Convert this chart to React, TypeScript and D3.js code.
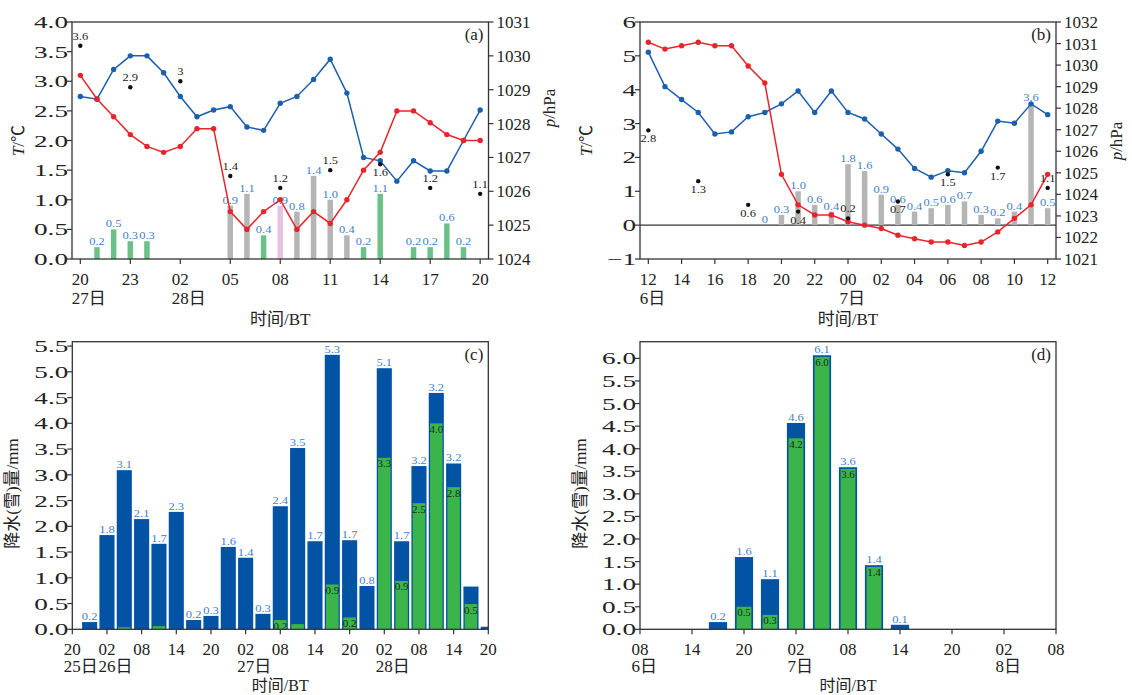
import React from 'react';
import * as d3 from 'd3';

const FONT = "'Liberation Serif','Times New Roman','Noto Sans CJK SC',serif";

// ---------- Panel (a) ----------
const aTickIdx = [0, 3, 6, 9, 12, 15, 18, 21, 24];
const aTickLabels = ['20', '23', '02', '05', '08', '11', '14', '17', '20'];
const aDayIdx = [0, 6];
const aDayLabels = ['27日', '28日'];
const aTemp = [3.1, 2.7, 2.4, 2.1, 1.9, 1.8, 1.9, 2.2, 2.2, 0.8, 0.5, 0.8, 1.0, 0.5, 0.8, 0.6, 1.0, 1.5, 1.8, 2.5, 2.5, 2.3, 2.1, 2.0, 2.0];
const aPres = [1028.8, 1028.72, 1029.6, 1030.0, 1030.0, 1029.5, 1028.8, 1028.2, 1028.4, 1028.5, 1027.9, 1027.8, 1028.6, 1028.8, 1029.3, 1029.9, 1028.9, 1027.0, 1026.9, 1026.3, 1026.9, 1026.6, 1026.6, 1027.5, 1028.4];
const aPrecip = [null, 0.2, 0.5, 0.3, 0.3, null, null, null, null, 0.9, 1.1, 0.4, 0.9, 0.8, 1.4, 1.0, 0.4, 0.2, 1.1, null, 0.2, 0.2, 0.6, 0.2, null];
const aPrecipType = ['', 'r', 'r', 'r', 'r', '', '', '', '', 's', 's', 'r', 'm', 's', 's', 's', 's', 'r', 'r', '', 'r', 'r', 'r', 'r', ''];
const aWindIdx = [0, 3, 6, 9, 12, 15, 18, 21, 24];
const aWind = [3.6, 2.9, 3, 1.4, 1.2, 1.5, 1.6, 1.2, 1.1];
const aWindBelow = [18];

// ---------- Panel (b) ----------
const bTickIdx = [0, 2, 4, 6, 8, 10, 12, 14, 16, 18, 20, 22, 24];
const bTickLabels = ['12', '14', '16', '18', '20', '22', '00', '02', '04', '06', '08', '10', '12'];
const bDayIdx = [0, 12];
const bDayLabels = ['6日', '7日'];
const bTemp = [5.4, 5.2, 5.3, 5.4, 5.3, 5.3, 4.7, 4.2, 1.5, 0.6, 0.3, 0.3, 0.1, 0.0, -0.1, -0.3, -0.4, -0.5, -0.5, -0.6, -0.5, -0.2, 0.2, 0.6, 1.5];
const bPres = [1030.6, 1029.0, 1028.4, 1027.8, 1026.8, 1026.9, 1027.6, 1027.8, 1028.2, 1028.8, 1027.8, 1028.8, 1027.8, 1027.5, 1026.8, 1026.1, 1025.2, 1024.8, 1025.1, 1025.0, 1026.0, 1027.4, 1027.3, 1028.2, 1027.7];
const bPrecip = [null, null, null, null, null, null, null, 0, 0.3, 1.0, 0.6, 0.4, 1.8, 1.6, 0.9, 0.6, 0.4, 0.5, 0.6, 0.7, 0.3, 0.2, 0.4, 3.6, 0.5];
const bPrecipType = bPrecip.map((v) => (v === null ? '' : 's'));
const bWindIdx = [0, 3, 6, 9, 12, 15, 18, 21, 24];
const bWind = [2.8, 1.3, 0.6, 0.4, 0.2, 0.7, 1.5, 1.7, 1.1];
const bWindBelow = [0, 3, 6, 9, 15, 18, 21];

// ---------- Panel (c) ----------
const cTickHours = [0, 6, 12, 18, 24, 30, 36, 42, 48, 54, 60, 66, 72];
const cTickLabels = ['20', '02', '08', '14', '20', '02', '08', '14', '20', '02', '08', '14', '20'];
const cDayHours = [0, 6, 30, 54];
const cDayLabels = ['25日', '26日', '27日', '28日'];
const cBarHours = [3, 6, 9, 12, 15, 18, 21, 24, 27, 30, 33, 36, 39, 42, 45, 48, 51, 54, 57, 60, 63, 66, 69, 72];
const cTotal = [0.14, 1.83, 3.09, 2.14, 1.66, 2.28, 0.18, 0.26, 1.6, 1.39, 0.3, 2.39, 3.52, 1.71, 5.33, 1.73, 0.84, 5.07, 1.71, 3.17, 4.59, 3.22, 0.83, 0.05];
const cTotalLabel = ['0.2', '1.8', '3.1', '2.1', '1.7', '2.3', '0.2', '0.3', '1.6', '1.4', '0.3', '2.4', '3.5', '1.7', '5.3', '1.7', '0.8', '5.1', '1.7', '3.2', '3.2', '3.2', '', ''];
const cSnow = [0, 0, 0.04, 0, 0.06, 0, 0, 0, 0, 0, 0, 0.18, 0.1, 0, 0.87, 0.23, 0, 3.33, 0.94, 2.45, 4.0, 2.76, 0.49, 0];
const cSnowLabel = ['', '', '', '', '', '', '', '', '', '', '', '0.2', '', '', '0.9', '0.2', '', '3.3', '0.9', '2.5', '4.0', '2.8', '0.5', ''];

// ---------- Panel (d) ----------
const dTickHours = [0, 6, 12, 18, 24, 30, 36, 42, 48];
const dTickLabels = ['08', '14', '20', '02', '08', '14', '20', '02', '08'];
const dDayHours = [0, 18, 42];
const dDayLabels = ['6日', '7日', '8日'];
const dBarHours = [9, 12, 15, 18, 21, 24, 27, 30];
const dTotal = [0.16, 1.6, 1.11, 4.57, 6.07, 3.59, 1.42, 0.1];
const dTotalLabel = ['0.2', '1.6', '1.1', '4.6', '6.1', '3.6', '1.4', '0.1'];
const dSnow = [0, 0.5, 0.32, 4.23, 6.07, 3.59, 1.42, 0];
const dSnowLabel = ['', '0.5', '0.3', '4.2', '6.0', '3.6', '1.4', ''];

const RED = '#e8242b';
const BLUE = '#1c5fae';
const LBLUE = '#3f7fcc';
const AXIS = '#333';
const TYPE_COLOR: Record<string, string> = { r: '#6cc08a', s: '#b5b5b5', m: '#e6c3e2' };

function Tx({ x, y, size = 17, sx = 1, anchor = 'middle', fill = '#222', rot = 0, children }: any) {
  let tr = `translate(${x},${y})`;
  if (rot) tr += ` rotate(${rot})`;
  if (sx !== 1) tr += ` scale(${sx},1)`;
  return (
    <text transform={tr} fontSize={size} textAnchor={anchor} fill={fill} fontFamily={FONT}>
      {children}
    </text>
  );
}

function XAxis({ x, y1, ticks, labels, dayTicks, dayLabels, titleX, titleY, dayDy = 45, titleSize = 17 }: any) {
  return (
    <g>
      {ticks.map((t: number, i: number) => (
        <g key={i}>
          <line x1={x(t)} x2={x(t)} y1={y1} y2={y1 + 5} stroke={AXIS} strokeWidth={1.2} />
          <Tx x={x(t)} y={y1 + 26}>{labels[i]}</Tx>
        </g>
      ))}
      {dayTicks.map((t: number, i: number) => (
        <Tx key={i} x={x(t) - 8.5} y={y1 + dayDy} anchor="start">{dayLabels[i]}</Tx>
      ))}
      <Tx x={titleX} y={titleY} size={titleSize}>时间/BT</Tx>
    </g>
  );
}

function LinePanel(p: any) {
  const x = d3.scaleLinear().domain([-0.5, 24.5]).range([p.x0, p.x1]);
  const yT = d3.scaleLinear().domain(p.tDomain).range([p.y1, p.y0]);
  const yP = d3.scaleLinear().domain(p.pDomain).range([p.y1, p.y0]);
  const lineT = d3.line<number>().x((_, i) => x(i)).y((d) => yT(d));
  const lineP = d3.line<number>().x((_, i) => x(i)).y((d) => yP(d));
  const tTicks = d3.range(p.tDomain[0], p.tDomain[1] + 1e-9, p.tStep);
  const pTicks = d3.range(p.pDomain[0], p.pDomain[1] + 1e-9, 1);
  const bw = 5.5;
  return (
    <g>
      {p.zeroLine && <line x1={p.x0} x2={p.x1} y1={yT(0)} y2={yT(0)} stroke={AXIS} strokeWidth={1.1} />}
      {p.precip.map((v: number | null, i: number) =>
        v === null ? null : (
          <rect key={i} x={x(i) - bw / 2} y={yT(v)} width={bw} height={yT(0) - yT(v)} fill={TYPE_COLOR[p.precipType[i]]} />
        )
      )}
      {p.precip.map((v: number | null, i: number) =>
        v === null ? null : (
          <Tx key={i} x={x(i)} y={yT(v) - 2} size={10} sx={1.25} fill={LBLUE}>{d3.format('.1f')(v) === '0.0' ? '0' : d3.format('.1f')(v)}</Tx>
        )
      )}
      <path d={lineP(p.pres) || ''} fill="none" stroke={BLUE} strokeWidth={1.5} />
      {p.pres.map((v: number, i: number) => (
        <circle key={i} cx={x(i)} cy={yP(v)} r={2.7} fill={BLUE} />
      ))}
      <path d={lineT(p.temp) || ''} fill="none" stroke={RED} strokeWidth={1.5} />
      {p.temp.map((v: number, i: number) => (
        <circle key={i} cx={x(i)} cy={yT(v)} r={2.7} fill={RED} />
      ))}
      {p.wind.map((v: number, k: number) => {
        const idx = p.windIdx[k];
        const below = p.windBelow.includes(idx);
        return (
          <g key={k}>
            <circle cx={x(idx)} cy={yT(v)} r={2.2} fill="#111" />
            <Tx x={x(idx)} y={below ? yT(v) + 12 : yT(v) - 6} size={10} sx={1.25} fill="#222">{String(v)}</Tx>
          </g>
        );
      })}
      <rect x={p.x0} y={p.y0} width={p.x1 - p.x0} height={p.y1 - p.y0} fill="none" stroke={AXIS} strokeWidth={1.3} />
      {tTicks.map((t: number, i: number) => (
        <g key={i}>
          <line x1={p.x0 - 5} x2={p.x0} y1={yT(t)} y2={yT(t)} stroke={AXIS} strokeWidth={1.2} />
          <Tx x={p.x0 - 4} y={yT(t) + 6} anchor="end" sx={1.6}>{p.tFmt(t)}</Tx>
        </g>
      ))}
      {pTicks.map((t: number, i: number) => (
        <g key={i}>
          <line x1={p.x1} x2={p.x1 + 5} y1={yP(t)} y2={yP(t)} stroke={AXIS} strokeWidth={1.2} />
          <Tx x={p.x1 + 8} y={yP(t) + 6} anchor="start">{String(t)}</Tx>
        </g>
      ))}
      <XAxis x={x} y1={p.y1} ticks={p.tickIdx} labels={p.tickLabels} dayTicks={p.dayIdx} dayLabels={p.dayLabels}
        titleX={(p.x0 + p.x1) / 2} titleY={p.y1 + 66} />
      <Tx x={p.x0 - 48} y={(p.y0 + p.y1) / 2} rot={-90}>
        <tspan fontStyle="italic">T</tspan>/℃
      </Tx>
      <Tx x={p.x1 + 66} y={p.pTitleY} rot={-90}>
        <tspan fontStyle="italic">p</tspan>/hPa
      </Tx>
      <Tx x={p.x1 - 5} y={p.y0 + 18} anchor="end">{p.label}</Tx>
    </g>
  );
}

function BarPanel(p: any) {
  const x = d3.scaleLinear().domain([0, p.hours]).range([p.x0, p.x1]);
  const y = d3.scaleLinear().domain([0, p.yMax]).range([p.y1, p.y0]);
  const yTicks = d3.range(0, p.yTickMax + 1e-9, 0.5);
  const bw = (x(3) - x(0)) * p.ratio;
  const ins = p.inset;
  return (
    <g>
      <defs>
        <clipPath id={`clip-${p.id}`}>
          <rect x={p.x0} y={p.y0} width={p.x1 - p.x0} height={p.y1 - p.y0} />
        </clipPath>
      </defs>
      <g clipPath={`url(#clip-${p.id})`}>
        {p.total.map((v: number, i: number) => (
          <rect key={i} x={x(p.barHours[i]) - bw / 2} y={y(v)} width={bw} height={y(0) - y(v)} fill="#0253a3" />
        ))}
        {p.snow.map((v: number, i: number) => {
          if (!v) return null;
          const top = Math.max(y(v), y(p.total[i]) + ins);
          return <rect key={i} x={x(p.barHours[i]) - bw / 2 + ins} y={top} width={bw - 2 * ins} height={y(0) - top} fill="#3bb54a" />;
        })}
      </g>
      {p.total.map((v: number, i: number) =>
        p.totalLabel[i] ? (
          <Tx key={i} x={x(p.barHours[i])} y={y(v) - 2} size={10} sx={1.25} fill={LBLUE}>{p.totalLabel[i]}</Tx>
        ) : null
      )}
      {p.snow.map((v: number, i: number) =>
        p.snowLabel[i] ? (
          <Tx key={i} x={x(p.barHours[i])} y={Math.max(y(v), y(p.total[i]) + ins) + 9.5} size={10} sx={1.1} fill="#1a2a1a">{p.snowLabel[i]}</Tx>
        ) : null
      )}
      <rect x={p.x0} y={p.y0} width={p.x1 - p.x0} height={p.y1 - p.y0} fill="none" stroke={AXIS} strokeWidth={1.3} />
      {yTicks.map((t: number, i: number) => (
        <g key={i}>
          <line x1={p.x0 - 5} x2={p.x0} y1={y(t)} y2={y(t)} stroke={AXIS} strokeWidth={1.2} />
          <Tx x={p.x0 - 4} y={y(t) + 6} anchor="end" sx={1.6}>{d3.format('.1f')(t)}</Tx>
        </g>
      ))}
      <XAxis x={x} y1={p.y1} ticks={p.tickHours} labels={p.tickLabels} dayTicks={p.dayHours} dayLabels={p.dayLabels}
        titleX={(p.x0 + p.x1) / 2} titleY={p.y1 + 61.5} dayDy={43} titleSize={16} />
      <Tx x={p.x0 - 54} y={(p.y0 + p.y1) / 2 + 8} rot={-90}>降水(雪)量/mm</Tx>
      <Tx x={p.x1 - 5} y={p.y0 + 18} anchor="end">{p.label}</Tx>
    </g>
  );
}

export default function App() {
  return (
    <svg width={1132} height={695} style={{ position: 'absolute', left: 0, top: 0, background: '#fff' }}>
      <rect x={0} y={0} width={1132} height={695} fill="#fff" />
      <LinePanel x0={72} x1={488.5} y0={22} y1={259} tDomain={[0, 4]} tStep={0.5} pDomain={[1024, 1031]}
        tFmt={d3.format('.1f')} tickIdx={aTickIdx} tickLabels={aTickLabels} dayIdx={aDayIdx} dayLabels={aDayLabels}
        temp={aTemp} pres={aPres} precip={aPrecip} precipType={aPrecipType} wind={aWind} windIdx={aWindIdx}
        windBelow={aWindBelow} label="(a)" pTitleY={108} zeroLine={false} />
      <LinePanel x0={640} x1={1056} y0={22} y1={259} tDomain={[-1, 6]} tStep={1} pDomain={[1021, 1032]}
        tFmt={(t: number) => (t < 0 ? '\u2212' + Math.abs(t) : String(t))} tickIdx={bTickIdx} tickLabels={bTickLabels}
        dayIdx={bDayIdx} dayLabels={bDayLabels} temp={bTemp} pres={bPres} precip={bPrecip} precipType={bPrecipType}
        wind={bWind} windIdx={bWindIdx} windBelow={bWindBelow} label="(b)" pTitleY={141} zeroLine={true} />
      <BarPanel id="c" x0={72.3} x1={488.3} y0={341.7} y1={629.3} hours={72} yMax={5.585} yTickMax={5.5} ratio={0.87} inset={1.3}
        tickHours={cTickHours} tickLabels={cTickLabels} dayHours={cDayHours} dayLabels={cDayLabels}
        barHours={cBarHours} total={cTotal} totalLabel={cTotalLabel} snow={cSnow} snowLabel={cSnowLabel} label="(c)" />
      <BarPanel id="d" x0={640} x1={1056} y0={341.7} y1={629.3} hours={48} yMax={6.37} yTickMax={6.0} ratio={0.7} inset={1.7}
        tickHours={dTickHours} tickLabels={dTickLabels} dayHours={dDayHours} dayLabels={dDayLabels}
        barHours={dBarHours} total={dTotal} totalLabel={dTotalLabel} snow={dSnow} snowLabel={dSnowLabel} label="(d)" />
    </svg>
  );
}
